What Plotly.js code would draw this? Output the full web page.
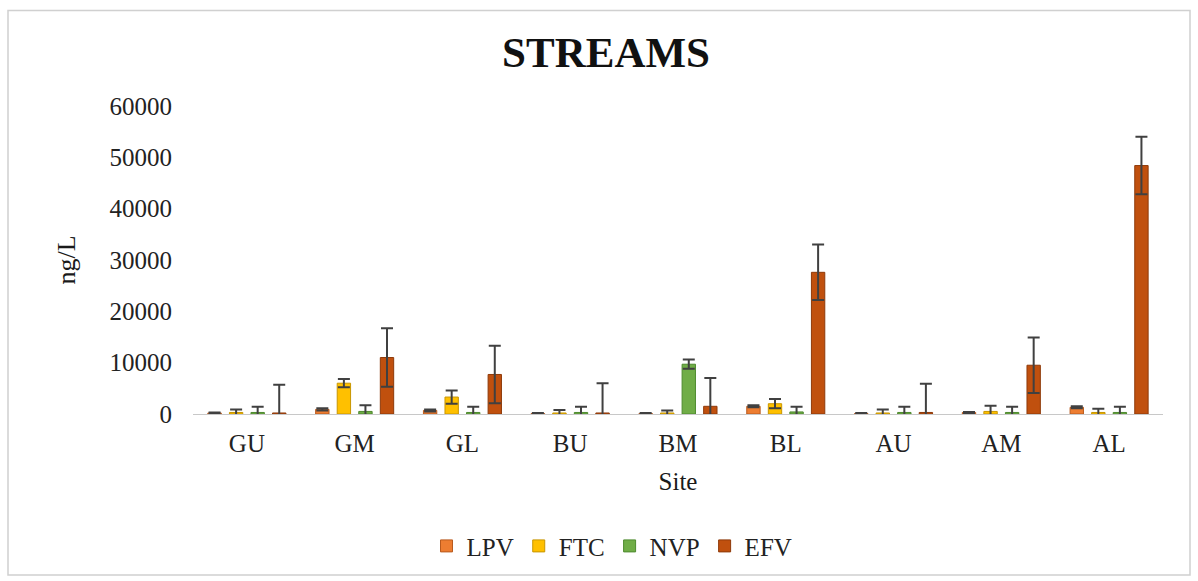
<!DOCTYPE html>
<html>
<head>
<meta charset="utf-8">
<script src="https://cdn.plot.ly/plotly-3.0.1.min.js"></script>
<style>html,body{margin:0;padding:0;background:#fff;} #chart{width:1198px;height:581px;}</style>
</head>
<body>
<div id="chart"></div>
<script>
const sites = ["GU","GM","GL","BU","BM","BL","AU","AM","AL"];
const seriesNames = ["LPV","FTC","NVP","EFV"];
const LPV = [200, 900, 700, 100, 100, 1500, 100, 300, 1300];
const LPV_err = [100, 200, 200, 100, 100, 200, 100, 100, 200];
const FTC = [300, 6000, 3300, 200, 200, 2000, 200, 500, 300];
const FTC_err = [600, 800, 1300, 600, 500, 900, 700, 1100, 700];
const NVP = [300, 500, 300, 300, 9700, 400, 300, 300, 300];
const NVP_err = [1100, 1200, 1100, 1100, 900, 1000, 1100, 1100, 1100];
const EFV = [200, 11000, 7700, 200, 1500, 27600, 300, 9500, 48400];
const EFV_err = [5500, 5700, 5600, 5800, 5500, 5400, 5600, 5400, 5600];
const yTicks = [0, 10000, 20000, 30000, 40000, 50000, 60000];

const colors = ["#ED7D31", "#FFC000", "#70AD47", "#C0500E"];
const lineColors = ["#B85A1E", "#C89600", "#4E8A2E", "#8E3A0A"];
const vals = [LPV, FTC, NVP, EFV];
const errs = [LPV_err, FTC_err, NVP_err, EFV_err];
const serif = "Liberation Serif, Times New Roman, serif";

const traces = seriesNames.map((n, i) => ({
  type: "bar", name: n, x: sites, y: vals[i],
  marker: {color: colors[i], line: {color: lineColors[i], width: 1}},
  error_y: {type: "data", array: errs[i], visible: true, color: "#404040", thickness: 2, width: 6}
}));

const L = 193, R = 35, T = 106, B = 165, W = 1198, H = 581;
const pw = W - L - R, ph = H - T - B;
const px = v => (v - L) / pw;
const py = v => (H - B - v) / ph;

const layout = {
  width: W, height: H,
  margin: {l: L, r: R, t: T, b: B, pad: 0},
  paper_bgcolor: "#fff", plot_bgcolor: "#fff",
  barmode: "group", bargap: 0.2, bargroupgap: 0.38,
  font: {family: serif, color: "#1a1a1a"},
  title: {text: "<b>STREAMS</b>", x: (606) / W, xanchor: "center", y: 1 - 52 / H, yanchor: "middle",
          font: {family: serif, size: 43, color: "#111"}},
  xaxis: {
    title: {text: "Site", font: {family: serif, size: 25}, standoff: 16},
    tickfont: {family: serif, size: 25, color: "#222"},
    showline: true, linecolor: "#c8c8c8", linewidth: 1, ticks: "", showgrid: false,
    ticklabelstandoff: 7
  },
  yaxis: {
    title: {text: "ng/L", font: {family: serif, size: 26}, standoff: 26},
    tickfont: {family: serif, size: 25, color: "#222"},
    range: [0, 60000], tickvals: yTicks, ticktext: yTicks.map(String),
    showgrid: false, zeroline: false, showline: false, ticks: "",
    ticklabelstandoff: 20
  },
  legend: {
    orientation: "h", x: px(612), xanchor: "center", y: py(549), yanchor: "middle",
    font: {family: serif, size: 25, color: "#222"}, itemwidth: 30, traceorder: "normal"
  },
  showlegend: true,
  shapes: [{
    type: "rect", xref: "paper", yref: "paper",
    x0: px(8), x1: px(1190), y0: py(578), y1: py(10),
    line: {color: "#d0d0d0", width: 1.5}, fillcolor: "rgba(0,0,0,0)", layer: "below"
  }]
};

Plotly.newPlot("chart", traces, layout, {displayModeBar: false, staticPlot: true});
</script>
</body>
</html>
